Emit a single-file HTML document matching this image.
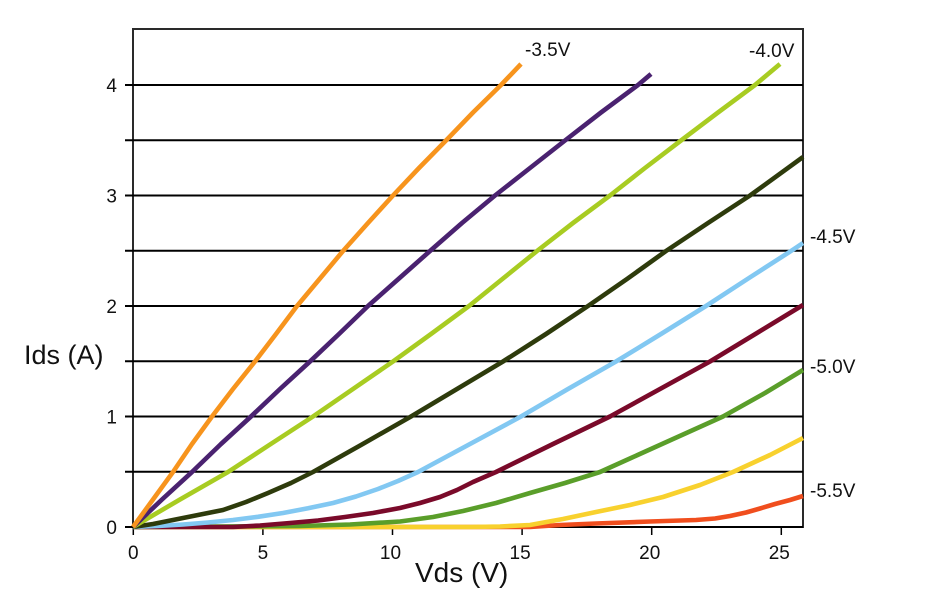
<!DOCTYPE html>
<html><head><meta charset="utf-8"><style>
html,body{margin:0;padding:0;background:#fff;}
svg{display:block;}
text{font-family:"Liberation Sans",Arial,sans-serif;fill:#111;}
</style></head><body>
<svg width="934" height="600" viewBox="0 0 934 600" xmlns="http://www.w3.org/2000/svg">
<rect width="934" height="600" fill="#fff"/>
<!-- frame -->
<rect x="133" y="29" width="670" height="498" fill="none" stroke="#2a2a2a" stroke-width="2"/>
<!-- gridlines + left ticks -->
<g stroke="#000" stroke-width="2">
<line x1="125" y1="85" x2="803" y2="85"/>
<line x1="125" y1="140.25" x2="803" y2="140.25"/>
<line x1="125" y1="195.5" x2="803" y2="195.5"/>
<line x1="125" y1="250.75" x2="803" y2="250.75"/>
<line x1="125" y1="306" x2="803" y2="306"/>
<line x1="125" y1="361.25" x2="803" y2="361.25"/>
<line x1="125" y1="416.5" x2="803" y2="416.5"/>
<line x1="125" y1="471.75" x2="803" y2="471.75"/>
<line x1="125" y1="527" x2="803" y2="527"/>
</g>
<!-- x ticks -->
<g stroke="#000" stroke-width="1.5">
<line x1="133.3" y1="527" x2="133.3" y2="535"/>
<line x1="262.9" y1="527" x2="262.9" y2="535"/>
<line x1="392.5" y1="527" x2="392.5" y2="535"/>
<line x1="522.1" y1="527" x2="522.1" y2="535"/>
<line x1="651.7" y1="527" x2="651.7" y2="535"/>
<line x1="781.3" y1="527" x2="781.3" y2="535"/>
</g>
<!-- curves -->
<g fill="none" stroke-width="4.6" stroke-linejoin="round" stroke-linecap="butt">
<polyline stroke="#F04E1E" points="133,527 530,527 560,525 596,523.5 650,521.5 696,520 715,518.5 730,516 746,512.5 760,508.5 775,504 790,500 803,496"/>
<polyline stroke="#F8D12E" points="133,527 470,527 500,526.5 530,525 563,519 596,512 630,505 663,497 700,485 733,472 770,455 803,438"/>
<polyline stroke="#5A9E2A" points="133,527 300,526 350,524.5 400,521.5 433,517 463,511 496,503 530,493 565,483 600,472 631,458 662,444 723,416.5 765,393 803,370"/>
<polyline stroke="#7A0A2A" points="133,527 233,527 260,525.5 290,523 318,520.5 345,517 373,513 400,508 420,503 440,497 457,490 473,482 496,472 553,444 610,416.5 660,389 710,361.5 757,333 803,305"/>
<polyline stroke="#82C8F2" points="133,527 158,526 183,524.5 208,522.5 233,520 258,516.8 283,513 308,508.3 333,503 356,496.5 378,489 398,481 418,472 444,458 470,444 521,416.5 568,389 616,361.5 661,334 706,306 749,278 791,251 803,243"/>
<polyline stroke="#2E3B0C" points="133,527 153,524 173,520 198,515 223,510 246,502 268,493 291,483 313,472 337,458.5 361,445 411,416.5 457,389 503,361.5 546,334 588,306 627,279 666,251 708,223 750,195.5 803,157"/>
<polyline stroke="#A8CC22" points="133,527 180,499.5 228,472 270,444.5 313,416.5 353,389 393,361.5 431,334 469,306 503,278.5 537,251 573,223 610,195.5 645,168 681,140.5 718,112.5 755,85 780,64"/>
<polyline stroke="#4A2270" points="133,527 162,499.5 192,472 221,444 251,416.5 280,389 310,361.5 339,334 368,306 399,278.5 430,251 462,223 495,195.5 530,168 565,140.5 601,112.5 638,85 651,74"/>
<polyline stroke="#F7941D" points="133,527 153,499.5 173,472 192,444 212,416.5 233,389 255,361.5 276,334 297,306 320,278.5 343,251 368,223 393,195.5 419,168 446,140.5 473,112.5 501,85 521,64"/>
</g>
<!-- y tick labels -->
<g font-size="19" text-anchor="end">
<text x="117" y="92">4</text>
<text x="117" y="202.5">3</text>
<text x="117" y="313">2</text>
<text x="117" y="423.5">1</text>
<text x="117" y="534">0</text>
</g>
<!-- x tick labels -->
<g font-size="19" text-anchor="middle">
<text x="133.3" y="559">0</text>
<text x="262.9" y="559">5</text>
<text x="390.5" y="559">10</text>
<text x="520.1" y="559">15</text>
<text x="649.7" y="559">20</text>
<text x="779.3" y="559">25</text>
</g>
<!-- axis titles -->
<text x="24" y="364" font-size="27">Ids (A)</text>
<text x="415" y="582" font-size="28">Vds (V)</text>
<!-- curve labels -->
<g font-size="19">
<text x="525" y="56">-3.5V</text>
<text x="749" y="57">-4.0V</text>
<text x="810" y="243">-4.5V</text>
<text x="810" y="373">-5.0V</text>
<text x="810" y="497">-5.5V</text>
</g>
</svg>
</body></html>
